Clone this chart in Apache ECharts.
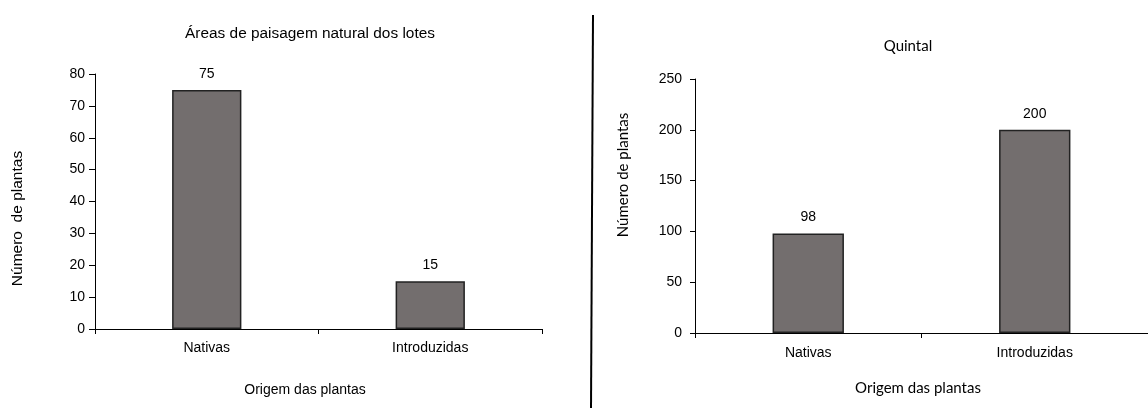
<!DOCTYPE html>
<html>
<head>
<meta charset="utf-8">
<script src="https://cdn.jsdelivr.net/npm/echarts@6/dist/echarts.min.js"></script>
<style>
html,body{margin:0;padding:0;background:#fff;}
#c{width:1148px;height:408px;}
</style>
</head>
<body>
<div id="c"></div>
<script>
const categories = ['Nativas', 'Introduzidas'];
const loteValues = [75, 15];
const quintalValues = [98, 200];
const loteTitle = 'Áreas de paisagem natural dos lotes';
const quintalTitle = 'Quintal';
const yName = 'Número de plantas';
const xName = 'Origem das plantas';

const chart = echarts.init(document.getElementById('c'), null, {renderer: 'canvas'});
const arial = 'Liberation Sans, Arial, sans-serif';
const cal = 'Lato, Carlito, sans-serif';
const ink = '#000';
const axisLine = {show: true, lineStyle: {color: '#000', width: 1}};
const barStyle = {color: '#736e6e', borderColor: '#222', borderWidth: 1.5};

chart.setOption({
  animation: false,
  title: [
    {text: loteTitle, left: 310, top: 26, textAlign: 'center', padding: 0,
     textStyle: {fontFamily: arial, fontSize: 15.4, fontWeight: 'normal', color: ink}},
    {text: quintalTitle, left: 908, top: 39, textAlign: 'center', padding: 0,
     textStyle: {fontFamily: cal, fontSize: 15, fontWeight: 'normal', color: ink}}
  ],
  grid: [
    {left: 95, top: 74, width: 447, height: 255},
    {left: 695, top: 79, width: 465, height: 254}
  ],
  xAxis: [
    {type: 'category', gridIndex: 0, data: categories,
     axisLine: axisLine, axisTick: {show: true, length: 5, lineStyle: {color: '#000'}},
     axisLabel: {fontFamily: arial, fontSize: 14, color: ink, margin: 12},
     name: xName, nameLocation: 'middle', nameGap: 54,
     nameTextStyle: {fontFamily: arial, fontSize: 14, color: ink, padding: [0, 27, 0, 0]}},
    {type: 'category', gridIndex: 1, data: categories,
     axisLine: axisLine, axisTick: {show: true, length: 5, lineStyle: {color: '#000'}},
     axisLabel: {fontFamily: arial, fontSize: 14, color: ink, margin: 13},
     name: xName, nameLocation: 'middle', nameGap: 48,
     nameTextStyle: {fontFamily: cal, fontSize: 15, color: ink, padding: [0, 7, 0, 0]}}
  ],
  yAxis: [
    {type: 'value', gridIndex: 0, min: 0, max: 80, interval: 10,
     axisLine: axisLine, axisTick: {show: true, length: 6, lineStyle: {color: '#000'}},
     splitLine: {show: false},
     axisLabel: {fontFamily: arial, fontSize: 14, color: ink, margin: 10},
     name: 'Número  de plantas', nameLocation: 'middle', nameGap: 69,
     nameTextStyle: {fontFamily: arial, fontSize: 15.5, color: ink, padding: [0, 34, 0, 0]}},
    {type: 'value', gridIndex: 1, min: 0, max: 250, interval: 50,
     axisLine: axisLine, axisTick: {show: true, length: 5, lineStyle: {color: '#000'}},
     splitLine: {show: false},
     axisLabel: {fontFamily: arial, fontSize: 14, color: ink, margin: 13},
     name: yName, nameLocation: 'middle', nameGap: 64,
     nameTextStyle: {fontFamily: cal, fontSize: 15, color: ink, padding: [0, 0, 0, 62]}}
  ],
  series: [
    {type: 'bar', xAxisIndex: 0, yAxisIndex: 0, data: loteValues, barWidth: '31%',
     itemStyle: barStyle,
     label: {show: true, position: 'top', distance: 9, fontFamily: arial, fontSize: 14, color: ink}},
    {type: 'bar', xAxisIndex: 1, yAxisIndex: 1, data: quintalValues, barWidth: '31.5%',
     itemStyle: barStyle,
     label: {show: true, position: 'top', distance: 9, fontFamily: arial, fontSize: 14, color: ink}}
  ],
  graphic: [
    {type: 'line', shape: {x1: 593, y1: 15, x2: 591, y2: 408},
     style: {stroke: '#000', lineWidth: 2}}
  ]
});
</script>
</body>
</html>
